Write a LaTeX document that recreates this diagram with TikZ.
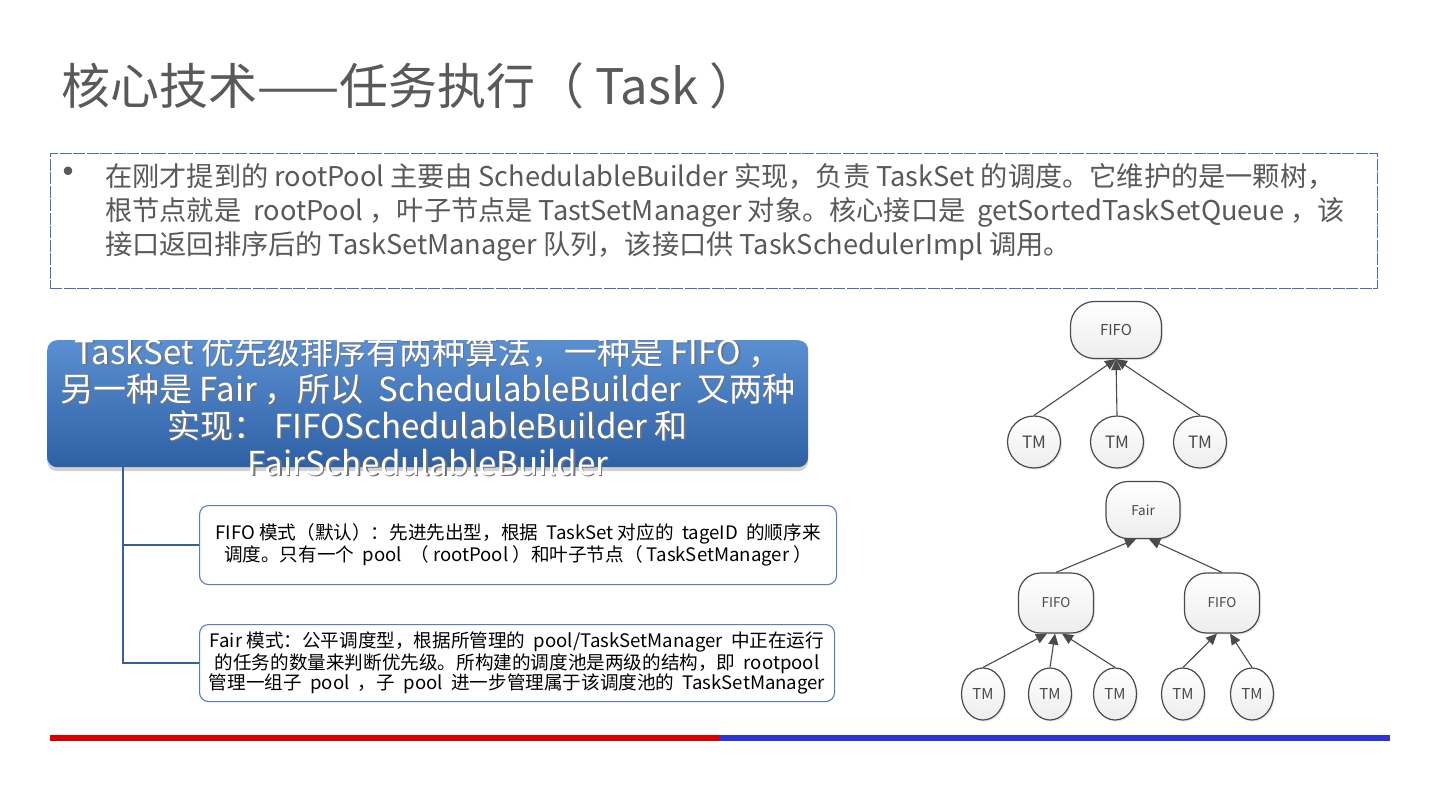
\documentclass[tikz,border=0pt]{standalone}
\usepackage{fontspec}
\setmainfont{Noto Sans CJK SC}
\usetikzlibrary{calc,arrows.meta,shadows,shapes.geometric}
\definecolor{txtgray}{HTML}{595959}
\definecolor{dashblue}{HTML}{4A6BBF}
\definecolor{bluetop}{HTML}{5A8FD2}
\definecolor{bluebot}{HTML}{2E60A4}
\definecolor{connblue}{HTML}{3A5F93}
\definecolor{boxblue}{HTML}{5A7DB8}
\definecolor{barred}{HTML}{DA0000}
\definecolor{barblue}{HTML}{2C34D9}
\definecolor{treegray}{HTML}{4A4A4A}
\begin{document}
\begin{tikzpicture}[x=1pt,y=-1pt,
  treenode/.style={draw=treegray, line width=1.2pt, top color=white, bottom color=gray!14, text=treegray, inner sep=0pt,
    drop shadow={opacity=0.18, shadow xshift=1.5pt, shadow yshift=-1.5pt}},
  poolA/.style={treenode, rounded corners=24pt, font=\fontsize{15}{15}\selectfont},
  poolB/.style={treenode, rounded corners=22pt, font=\fontsize{13.5}{13.5}\selectfont},
  tmA/.style={treenode, ellipse, font=\fontsize{17}{17}\selectfont},
  tmB/.style={treenode, ellipse, font=\fontsize{15}{15}\selectfont},
  arr/.style={draw=treegray, line width=1.1pt, -{Triangle[length=11pt,width=10pt]}},
  infobox/.style={draw=boxblue, line width=1.1pt, rounded corners=9pt, fill=white, align=center, text=black, font=\fontsize{18.6}{20}\selectfont},
  conn/.style={draw=connblue, line width=1.6pt}
]
\useasboundingbox[fill=white] (0,0) rectangle (1440,809);

% title
\node[anchor=west, text=txtgray, font=\fontsize{49}{49}\selectfont, inner sep=0pt] (title) at (61,86) {核心技术——任务执行（ Task ）};

% description box
\node[draw=dashblue, dash pattern=on 12pt off 1.5pt, line width=0.8pt, minimum width=1327, minimum height=135, anchor=north west, inner sep=0pt] (desc) at (50,153) {};
\node[text=txtgray, font=\fontsize{40}{40}\selectfont, inner sep=0pt] (bul) at (68,177) {•};
\node[anchor=north west, align=left, text=txtgray, font=\fontsize{27.2}{34}\selectfont, inner sep=0pt] (body) at (105,163)
{在刚才提到的 rootPool 主要由 SchedulableBuilder 实现，负责 TaskSet 的调度。它维护的是一颗树，\\
根节点就是 \ rootPool ，叶子节点是 TastSetManager 对象。核心接口是 \ getSortedTaskSetQueue ，该\\
接口返回排序后的 TaskSetManager 队列，该接口供 TaskSchedulerImpl 调用。};

% blue algorithm box
\node[top color=bluetop, bottom color=bluebot, rounded corners=10pt, minimum width=761, minimum height=127, anchor=north west, inner sep=0pt,
  drop shadow={opacity=0.35, shadow xshift=0pt, shadow yshift=-4pt}] (algo) at (47,340) {};
\begin{scope}
\clip (0,340) rectangle (1440,809);
\node[align=center, text=black!55, font=\fontsize{33}{37}\selectfont, inner sep=0pt] (algoshadow) at (429.5,407.5)
{TaskSet 优先级排序有两种算法，一种是 FIFO ，\\另一种是 Fair ，所以 \ SchedulableBuilder \ 又两种\\实现： FIFOSchedulableBuilder 和\\FairSchedulableBuilder};
\node[align=center, text=white, font=\fontsize{33}{37}\selectfont, inner sep=0pt] (algotext) at (428,406)
{TaskSet 优先级排序有两种算法，一种是 FIFO ，\\另一种是 Fair ，所以 \ SchedulableBuilder \ 又两种\\实现： FIFOSchedulableBuilder 和\\FairSchedulableBuilder};
\end{scope}

% info boxes
\node[infobox, minimum width=637, minimum height=79, anchor=north west, inner sep=0pt] (fifobox) at (199,505)
{FIFO 模式（默认）：先进先出型，根据 \ TaskSet 对应的 \ tageID \ 的顺序来\\调度。只有一个 \ pool \ （ rootPool ）和叶子节点（ TaskSetManager ）};
\node[infobox, minimum width=635, minimum height=77, anchor=north west, inner sep=0pt] (fairbox) at (199,624)
{Fair 模式：公平调度型，根据所管理的 \ pool/TaskSetManager \ 中正在运行\\的任务的数量来判断优先级。所构建的调度池是两级的结构，即 \ rootpool\\管理一组子 \ pool \ ，子 \ pool \ 进一步管理属于该调度池的 \ TaskSetManager};

% connectors
\coordinate (trunk) at ($(algo.south west)+(76,0)$);
\draw[conn] (trunk) |- (fifobox.west);
\draw[conn] (trunk) |- (fairbox.west);

% tree 1
\node[poolA, minimum width=91, minimum height=57] (f1) at (1116,330) {FIFO};
\node[tmA, minimum width=53, minimum height=52] (t11) at (1034,442) {TM};
\node[tmA, minimum width=53, minimum height=52] (t12) at (1117,442) {TM};
\node[tmA, minimum width=53, minimum height=52] (t13) at (1200,442) {TM};
\draw[arr] (t11.north) -- (f1.south);
\draw[arr] (t12.north) -- (f1.south);
\draw[arr] (t13.north) -- (f1.south);

% tree 2
\node[poolB, minimum width=74, minimum height=57] (fair) at (1143,510) {Fair};
\node[poolB, minimum width=75, minimum height=60] (fl) at (1056,603) {FIFO};
\node[poolB, minimum width=75, minimum height=60] (fr) at (1222,603) {FIFO};
\node[tmB, minimum width=43, minimum height=52] (t21) at (983,694) {TM};
\node[tmB, minimum width=43, minimum height=52] (t22) at (1050,694) {TM};
\node[tmB, minimum width=43, minimum height=52] (t23) at (1115,694) {TM};
\node[tmB, minimum width=43, minimum height=52] (t24) at (1183,694) {TM};
\node[tmB, minimum width=43, minimum height=52] (t25) at (1252,694) {TM};
\draw[arr] (fl.north) -- ($(fair.south)+(-7,0)$);
\draw[arr] (fr.north) -- ($(fair.south)+(6,0)$);
\draw[arr] (t21.north) -- ($(fl.south)+(-9,0)$);
\draw[arr] (t22.north) -- ($(fl.south)+(-1,0)$);
\draw[arr] (t23.north) -- ($(fl.south)+(6,0)$);
\draw[arr] (t24.north) -- ($(fr.south)+(-5,0)$);
\draw[arr] (t25.north) -- ($(fr.south)+(8,0)$);

% bottom bar
\fill[barred] (50,735) rectangle (720,741);
\fill[barblue] (720,735) rectangle (1390,741);
\end{tikzpicture}
\end{document}
